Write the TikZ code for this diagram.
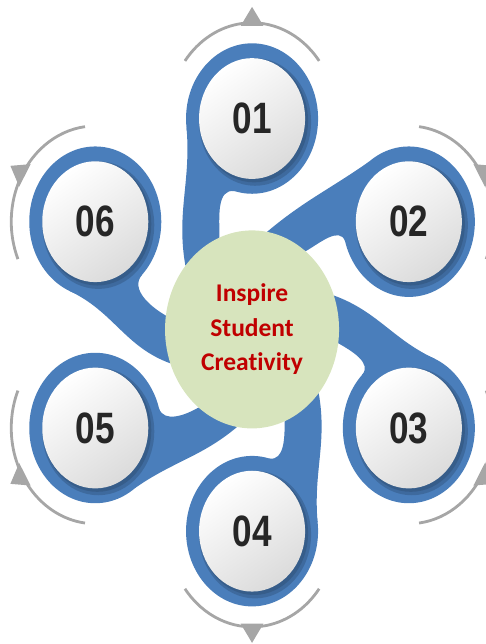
\documentclass[tikz,border=0pt]{standalone}
\usepackage{fontspec}
\setmainfont{Carlito}[Ligatures=NoCommon]
\newfontfamily\numfont[FakeStretch=0.8]{Liberation Sans}
\usetikzlibrary{calc,shapes.geometric}
\definecolor{ringblue}{RGB}{74,126,187}
\definecolor{hubgreen}{RGB}{215,228,189}
\definecolor{hubred}{RGB}{192,0,0}
\definecolor{arcgray}{RGB}{166,166,166}

% blue drop with its grey arc: #1 = angle, #2 = name
\newcommand{\petal}[2]{%
  \pgfmathsetmacro\angA{#1-53}%
  \pgfmathsetmacro\angB{#1+53}%
  \pgfmathsetmacro\angOut{#1+185}%
  \pgfmathsetmacro\angIn{#1+10}%
  \pgfmathsetmacro\angBack{#1+80}%
  \coordinate (#2) at (#1:181);
  \draw[arcline] ($(#2)+(\angA:84)$) arc[start angle=\angA,end angle=\angB,radius=84];
  \fill[arcgray] ($(#2)+(#1:98)$) -- ($(#2)+(#1+8:82)$) -- ($(#2)+(#1-8:82)$) -- cycle;
  \fill[ringblue] ($(#2)+(#1+97:66)$) to[out=\angOut,in=\angIn] ($(hubc)+(#1+50:87)$)
    -- ($(hubc)+(#1+22:87)$) to[out=#1,in=\angBack] ($(#2)+(#1+165:66)$) -- (#2) -- cycle;
  \fill[ringblue] (#2) circle[radius=66];
}
% white disc with its number: #1 = name, #2 = text
\newcommand{\face}[2]{%
  \fill[ringblue!50!black,opacity=.3] ($(#1)+(3,-3)$) circle[radius=56];
  \fill[ringblue!50!black,opacity=.3] ($(#1)+(2,-2)$) circle[radius=54];
  \shade[disc] (#1) circle[radius=53];
  \node[numtext] (#1n) at (#1) {#2};
}

\begin{document}
\begin{tikzpicture}[x=0.02cm,y=0.0228cm,% the whole drawing is a bit taller than wide
    every node/.style={align=center},
    arcline/.style={draw=arcgray,line width=1.6pt},
    disc/.style={top color=white,bottom color=black!14,shading angle=35},
    numtext/.style={font=\numfont\bfseries\fontsize{25}{25}\selectfont,text=black!85},
    hubtext/.style={ellipse,fill=hubgreen,minimum width=3.48cm,minimum height=3.96cm,
                    inner sep=0pt,text=hubred,font=\bfseries\fontsize{14.5}{19.6}\selectfont}
  ]
\useasboundingbox (-252,-280) rectangle (233,285);
\coordinate (hubc) at (0,-4);
% drops, clockwise from the top
\petal{90}{p1}
\petal{30}{p2}
\petal{-30}{p3}
\petal{-90}{p4}
\petal{-150}{p5}
\petal{150}{p6}
\node[hubtext] (hub) at (hubc) {Inspire\\Student\\Creativity};
\face{p1}{01}
\face{p2}{02}
\face{p3}{03}
\face{p4}{04}
\face{p5}{05}
\face{p6}{06}
\end{tikzpicture}
\end{document}
